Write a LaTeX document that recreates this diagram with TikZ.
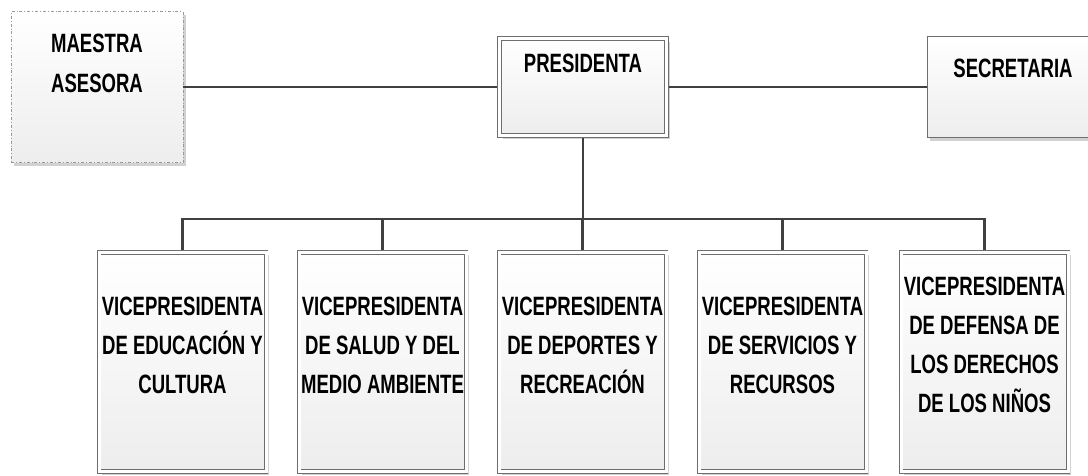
\documentclass[tikz,border=0pt]{standalone}
\usepackage{fontspec}
\newfontfamily\orgfont{Liberation Sans}[FakeStretch=0.7]
\usetikzlibrary{shadows}
\definecolor{linegray}{HTML}{404040}
\definecolor{boxgray}{HTML}{6E6E6E}
\begin{document}
\begin{tikzpicture}[x=1pt,y=-1pt,
		orgbox/.style={draw=boxgray, line width=0.8pt, top color=white, bottom color=black!7,
			drop shadow={shadow xshift=3pt, shadow yshift=-3pt, fill=black!18, opacity=1}},
		dblbox/.style={orgbox, double=white, double distance=3pt, outer sep=2.3pt, minimum width=167pt},
		dashbox/.style={orgbox, draw=black!40, dash dot, minimum width=172pt},
		orgtext/.style={font=\orgfont\bfseries\fontsize{26.5}{39}\selectfont, align=center, inner sep=0pt},
		conn/.style={draw=linegray, line width=2.5pt}]
	\useasboundingbox (0,0) rectangle (1088,475);
	% top row
	\node[dashbox, minimum height=151pt] (maestra) at (97,87) {};
	\node[orgtext] (maestratxt) at ([yshift=24pt]maestra.center) {MAESTRA\\[1pt]ASESORA};
	\node[dblbox, minimum height=97pt] (pres) at (583,87) {};
	\node[orgtext] (prestxt) at ([yshift=24pt]pres.center) {PRESIDENTA};
	\node[orgbox, minimum width=172pt, minimum height=101pt] (secr) at (1013,87) {};
	\node[orgtext] (secrtxt) at ([yshift=19pt]secr.center) {SECRETARIA};
	% vicepresidentas
	\foreach \i/\x/\t in {1/182.5/{VICEPRESIDENTA\\DE EDUCACIÓN Y\\CULTURA},
			2/382.5/{VICEPRESIDENTA\\DE SALUD Y DEL\\MEDIO AMBIENTE},
			3/582.5/{VICEPRESIDENTA\\DE DEPORTES Y\\RECREACIÓN},
			4/782.5/{VICEPRESIDENTA\\DE SERVICIOS Y\\RECURSOS},
			5/984.5/{VICEPRESIDENTA\\DE DEFENSA DE\\LOS DERECHOS\\DE LOS NIÑOS}} {
		\node[dblbox, minimum height=219.4pt] (v\i) at (\x,362) {};
		\node[orgtext] (vt\i) at ([yshift=17pt]v\i.center) {\t};
	}
	% connectors
	\draw[conn] (maestra) -- (pres);
	\draw[conn] (pres) -- (secr);
	\coordinate (bus) at (583,219);
	\draw[conn] (pres.south) -- (bus);
	\foreach \i in {1,...,5}
		\draw[conn] (bus) -| (v\i.north);
\end{tikzpicture}
\end{document}
